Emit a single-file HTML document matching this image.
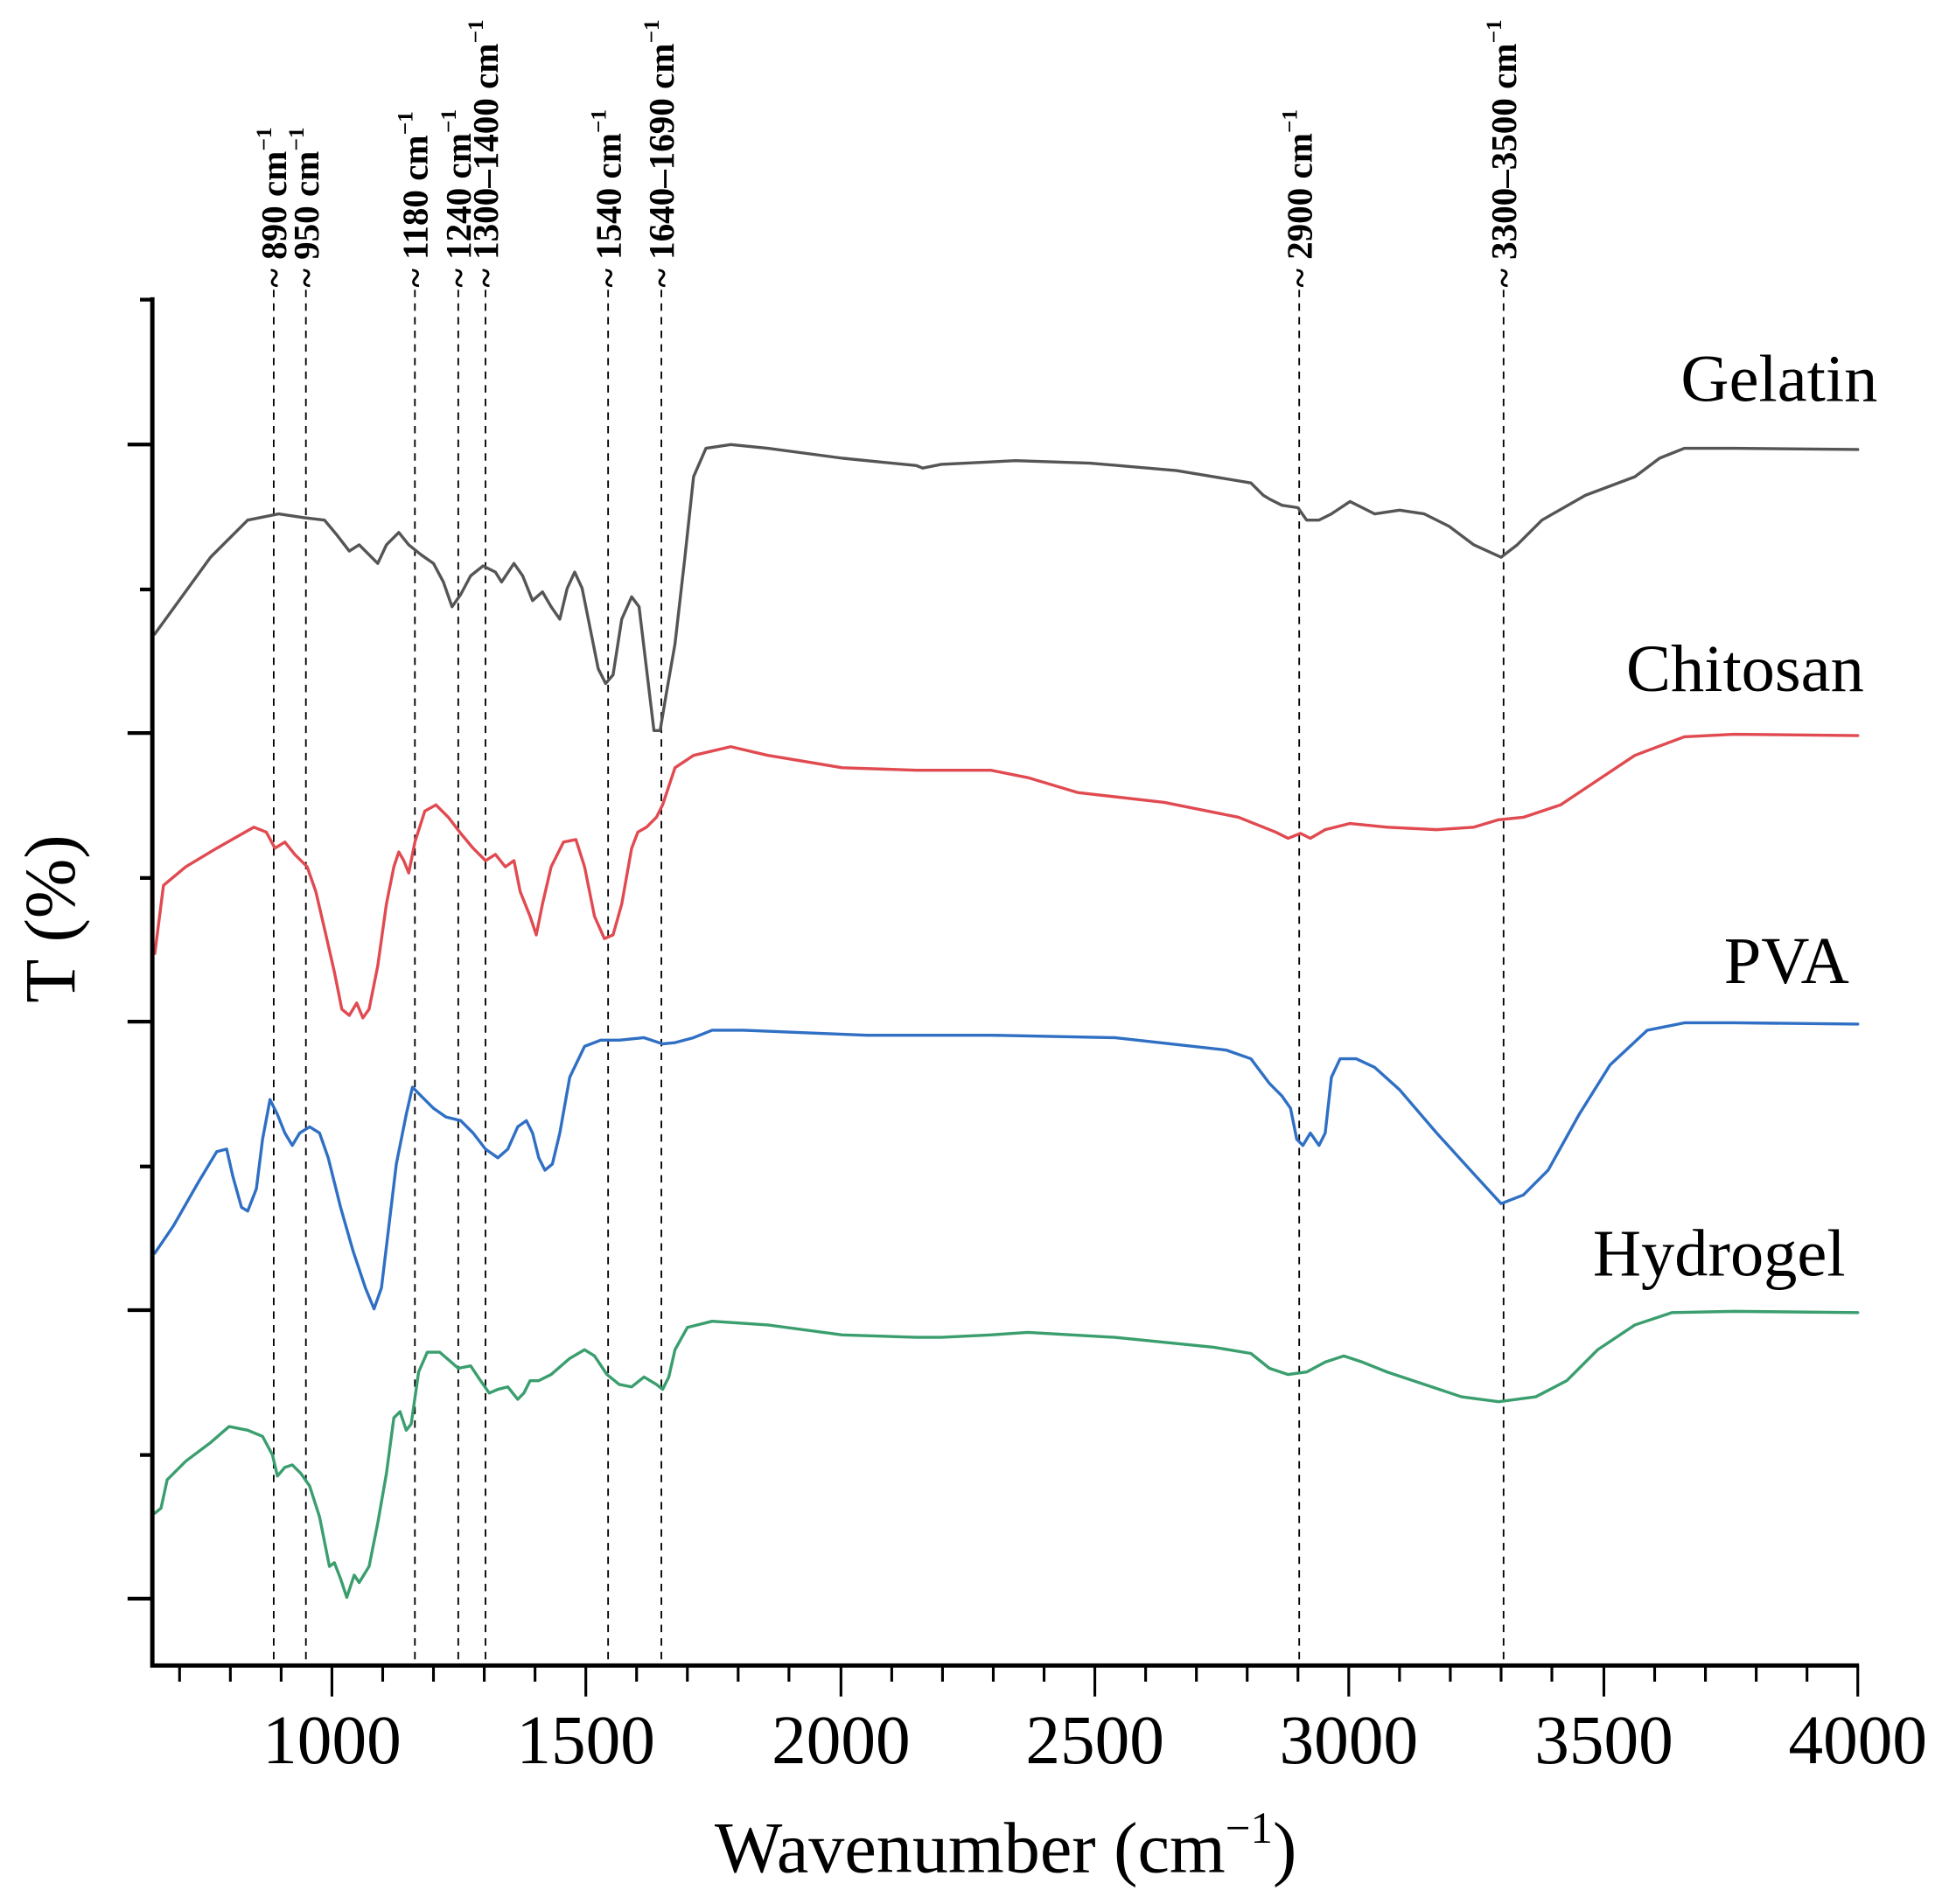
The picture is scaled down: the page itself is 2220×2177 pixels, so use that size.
<!DOCTYPE html>
<html><head><meta charset="utf-8"><style>
html,body{margin:0;padding:0;background:#fff}
svg{display:block}
text{font-family:"Liberation Serif",serif}
</style></head><body>
<svg width="2220" height="2177" viewBox="0 0 1568 1537.6" xmlns="http://www.w3.org/2000/svg">
<g stroke="#000" stroke-width="1.3" stroke-dasharray="6,5" fill="none">
<line x1="221" y1="234" x2="221" y2="1345"/>
<line x1="247" y1="234" x2="247" y2="1345"/>
<line x1="335" y1="234" x2="335" y2="1345"/>
<line x1="370" y1="234" x2="370" y2="1345"/>
<line x1="392" y1="234" x2="392" y2="1345"/>
<line x1="491" y1="234" x2="491" y2="1345"/>
<line x1="534" y1="234" x2="534" y2="1345"/>
<line x1="1049" y1="234" x2="1049" y2="1345"/>
<line x1="1214" y1="234" x2="1214" y2="1345"/>
</g>
<g font-size="29" font-weight="bold" fill="#000">
<text transform="translate(231,232) rotate(-90)">~ 890 cm<tspan dy="-12" font-size="18">−1</tspan></text>
<text transform="translate(257,232) rotate(-90)">~ 950 cm<tspan dy="-12" font-size="18">−1</tspan></text>
<text transform="translate(345,232) rotate(-90)">~ 1180 cm<tspan dy="-12" font-size="18">−1</tspan></text>
<text transform="translate(380,232) rotate(-90)">~ 1240 cm<tspan dy="-12" font-size="18">−1</tspan></text>
<text transform="translate(402,232) rotate(-90)">~ 1300–1400 cm<tspan dy="-12" font-size="18">−1</tspan></text>
<text transform="translate(501,232) rotate(-90)">~ 1540 cm<tspan dy="-12" font-size="18">−1</tspan></text>
<text transform="translate(544,232) rotate(-90)">~ 1640–1690 cm<tspan dy="-12" font-size="18">−1</tspan></text>
<text transform="translate(1059,232) rotate(-90)">~ 2900 cm<tspan dy="-12" font-size="18">−1</tspan></text>
<text transform="translate(1224,232) rotate(-90)">~ 3300–3500 cm<tspan dy="-12" font-size="18">−1</tspan></text>
</g>
<g fill="none" stroke-width="2.4" stroke-linejoin="round" stroke-linecap="round">
<polyline stroke="#555" points="125,512 170,450 200,420 225,415 245,418 262,420 272,432 282,445 290,440 300,450 305,455 312,440 322,430 330,440 340,448 350,455 358,470 365,490 372,480 380,465 390,457 400,462 405,470 415,455 422,465 430,485 438,478 445,490 452,500 458,475 464,462 470,475 477,510 483,540 489,552 495,545 502,500 510,482 516,490 522,540 528,590 533,590 538,560 545,520 553,450 560,385 570,362 590,359 620,362 680,370 740,376 745,378 760,375 820,372 880,374 950,380 1010,390 1020,400 1025,403 1035,408 1048,410 1055,420 1065,420 1075,415 1090,405 1100,410 1110,415 1130,412 1150,415 1170,425 1190,440 1212,450 1225,440 1245,420 1280,400 1320,385 1340,370 1360,362 1400,362 1500,363"/>
<polyline stroke="#e04a50" points="125,770 132,715 150,700 175,685 205,668 215,672 222,685 230,680 238,690 248,700 255,720 262,750 270,785 276,815 282,820 288,810 293,822 298,815 305,780 312,730 318,700 322,688 326,695 330,705 335,680 343,655 352,650 362,660 372,673 382,685 392,695 400,690 408,700 415,695 420,720 428,740 433,755 438,730 445,700 455,680 465,678 472,700 480,740 488,758 495,755 502,730 510,685 515,672 522,668 530,660 535,650 545,620 560,610 590,603 620,610 680,620 740,622 800,622 830,628 870,640 940,648 1000,660 1030,672 1040,677 1050,673 1058,677 1070,670 1090,665 1120,668 1160,670 1190,668 1210,662 1230,660 1260,650 1290,630 1320,610 1360,595 1400,593 1500,594"/>
<polyline stroke="#2f6fc4" points="125,1012 140,990 160,955 175,930 183,928 188,950 195,975 200,978 207,960 212,920 218,888 224,900 230,915 236,925 242,915 250,910 258,915 265,935 275,975 285,1010 295,1040 302,1057 308,1040 314,990 320,940 328,900 333,878 340,885 350,895 360,902 372,905 382,915 392,928 402,935 410,928 418,910 425,905 430,915 435,935 440,945 446,940 452,915 460,870 472,845 485,840 500,840 520,838 535,843 545,842 560,838 575,832 600,832 700,836 800,836 900,838 990,848 1010,855 1025,875 1035,885 1042,895 1047,920 1052,925 1058,915 1065,925 1070,915 1075,870 1082,855 1095,855 1110,862 1130,880 1160,915 1190,948 1212,972 1230,965 1250,945 1275,900 1300,860 1330,832 1360,826 1400,826 1500,827"/>
<polyline stroke="#3a9e6e" points="125,1222 130,1218 135,1195 150,1180 170,1165 185,1152 200,1155 212,1160 220,1175 224,1192 230,1185 236,1183 243,1190 250,1200 258,1225 266,1265 270,1262 275,1275 280,1290 286,1272 290,1278 298,1265 305,1230 312,1190 318,1145 323,1140 328,1155 332,1150 338,1108 345,1092 355,1092 362,1098 370,1105 380,1103 388,1115 395,1125 402,1122 410,1120 418,1130 423,1125 428,1115 435,1115 445,1110 460,1097 472,1090 480,1095 490,1110 500,1118 510,1120 520,1112 530,1118 535,1122 540,1112 545,1090 555,1072 575,1067 620,1070 680,1078 740,1080 760,1080 800,1078 830,1076 900,1080 980,1088 1010,1093 1025,1105 1040,1110 1055,1108 1070,1100 1085,1095 1100,1100 1120,1108 1150,1118 1180,1128 1210,1132 1240,1128 1265,1115 1290,1090 1320,1070 1350,1060 1400,1059 1500,1060"/>
</g>
<g stroke="#000" fill="none">
<path d="M123,240 V1345 H1501" stroke-width="3.5"/>
<path stroke-width="3" d="M103,359H123M103,592H123M103,825H123M103,1058H123M103,1291H123M113,242H123M113,476H123M113,709H123M113,942H123M113,1175H123"/>
<path stroke-width="2.2" d="M268,1345V1370M473,1345V1370M679,1345V1370M884,1345V1370M1089,1345V1370M1295,1345V1370M1500,1345V1370
M145,1345V1358M186,1345V1358M227,1345V1358M309,1345V1358M350,1345V1358M391,1345V1358M432,1345V1358M514,1345V1358M555,1345V1358M596,1345V1358M637,1345V1358M720,1345V1358M761,1345V1358M802,1345V1358M843,1345V1358M925,1345V1358M966,1345V1358M1007,1345V1358M1048,1345V1358M1130,1345V1358M1171,1345V1358M1212,1345V1358M1253,1345V1358M1336,1345V1358M1377,1345V1358M1418,1345V1358M1459,1345V1358"/>
</g>
<g font-size="56" fill="#000" text-anchor="middle">
<text x="268" y="1424">1000</text>
<text x="473" y="1424">1500</text>
<text x="679" y="1424">2000</text>
<text x="884" y="1424">2500</text>
<text x="1089" y="1424">3000</text>
<text x="1295" y="1424">3500</text>
<text x="1500" y="1424">4000</text>
<text x="812" y="1512" font-size="58">Wavenumber (cm<tspan font-size="36" dy="-24">−1</tspan><tspan dy="24">)</tspan></text>
<text transform="translate(60,742) rotate(-90)" font-size="58">T (%)</text>
</g>
<g font-size="54" fill="#000" text-anchor="end">
<text x="1516" y="324">Gelatin</text>
<text x="1505" y="558">Chitosan</text>
<text x="1493" y="794">PVA</text>
<text x="1490" y="1030">Hydrogel</text>
</g>
</svg>
</body></html>
